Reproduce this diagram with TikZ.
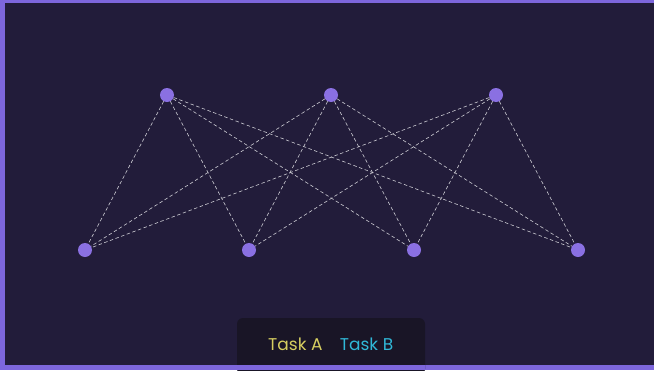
\documentclass[tikz,border=0pt]{standalone}
\usepackage{fontspec}
\setmainfont{Poppins}
\usetikzlibrary{positioning,calc}
\definecolor{night}{RGB}{34,28,58}
\definecolor{frame}{RGB}{125,102,220}
\definecolor{violet}{RGB}{138,112,226}
\definecolor{panel}{RGB}{25,21,38}
\definecolor{lemon}{RGB}{214,206,96}
\definecolor{cyanish}{RGB}{48,184,216}
\tikzset{
  unit/.style={circle,fill=violet,inner sep=0pt,minimum size=14pt},
  link/.style={draw=white!78!night,dash pattern=on 3.5pt off 2.5pt,line width=0.6pt},
  legend/.style={font=\fontsize{17}{20}\selectfont,inner sep=0pt,anchor=base west},
}
\begin{document}
\begin{tikzpicture}[x=1pt,y=-1pt]
    \fill[night] (0,0) rectangle (654,370);
    \useasboundingbox (0,0) rectangle (654,370);
    % frame on three sides
    \fill[frame] (0,0) rectangle (654,3);
    \fill[frame] (0,0) rectangle (5,370);
    \fill[frame] (0,365) rectangle (654,370);
    % legend panel
    \fill[panel,rounded corners=6pt] (237,318) rectangle (425,375);
    \fill[frame] (237,365) rectangle (425,370);
    % units
    \foreach \x [count=\k] in {167,331,496}
      \node[unit] (top\k) at (\x,95) {};
    \foreach \x [count=\k] in {85,249,414,578}
      \node[unit] (bot\k) at (\x,250) {};
    \foreach \i in {1,2,3}
      \foreach \j in {1,2,3,4}
        \draw[link] (top\i) -- (bot\j);
    \node[legend,text=lemon] (ta) at (268,350) {Task A};
    \node[legend,text=cyanish,right=17pt of ta.base east,anchor=base west] (tb) {Task B};
  \end{tikzpicture}
\end{document}
